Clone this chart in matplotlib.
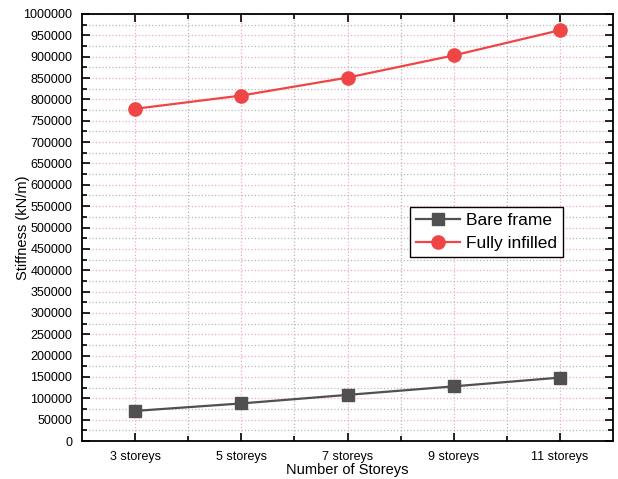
import matplotlib
matplotlib.use("Agg")
import matplotlib.pyplot as plt
from matplotlib.ticker import MultipleLocator, FixedLocator, FormatStrFormatter

plt.rcParams["font.family"] = ["Liberation Sans", "DejaVu Sans"]

# dados
andares = ["3 storeys", "5 storeys", "7 storeys", "9 storeys", "11 storeys"]
bare_frame = [70500, 88000, 108000, 128000, 148500]
fully_infilled = [778000, 809000, 851000, 903000, 962000]

# grafico
fig = plt.figure(figsize=(6.18, 4.79), dpi=100)
ax = fig.add_axes([0.1327, 0.0793, 0.8592, 0.8915])

pos = list(range(1, len(andares) + 1))

ax.plot(pos, bare_frame, color="#505050", lw=1.6, marker="s",
        markersize=8.5, label="Bare frame")
ax.plot(pos, fully_infilled, color="#f04545", lw=1.6, marker="o",
        markersize=9.5, label="Fully infilled")

ax.set_xlim(0.5, len(andares) + 0.5)
ax.set_ylim(0, 1000000)

ax.xaxis.set_major_locator(FixedLocator(pos))
ax.xaxis.set_minor_locator(FixedLocator([p + 0.5 for p in pos[:-1]]))
ax.set_xticklabels(andares)
ax.yaxis.set_major_locator(MultipleLocator(50000))
ax.yaxis.set_minor_locator(MultipleLocator(25000))
ax.yaxis.set_major_formatter(FormatStrFormatter("%d"))

ax.tick_params(which="both", direction="in", top=True, right=True,
               width=1.2, labelsize=9)
ax.tick_params(which="major", length=6)
ax.tick_params(which="minor", length=3.5)
ax.tick_params(axis="x", pad=7)
ax.tick_params(axis="y", pad=7)

ax.grid(which="major", color="#f4a6d0", linestyle=":", lw=0.9)
ax.grid(which="minor", color="#b8b8b8", linestyle=":", lw=0.9)
ax.set_axisbelow(True)

for s in ax.spines.values():
    s.set_linewidth(1.3)

ax.set_xlabel("Number of Storeys", fontsize=10.5, labelpad=0)
ax.set_ylabel("Stiffness (kN/m)", fontsize=10.5, labelpad=-5)

leg = ax.legend(loc="upper left", bbox_to_anchor=(0.618, 0.548),
                fontsize=12.5, frameon=True, fancybox=False,
                edgecolor="black", framealpha=1, borderpad=0.35,
                handlelength=2.5, handletextpad=0.35, labelspacing=0.45,
                borderaxespad=0)
leg.get_frame().set_linewidth(1.0)

fig.savefig("out.png", dpi=100)
plt.close(fig)
